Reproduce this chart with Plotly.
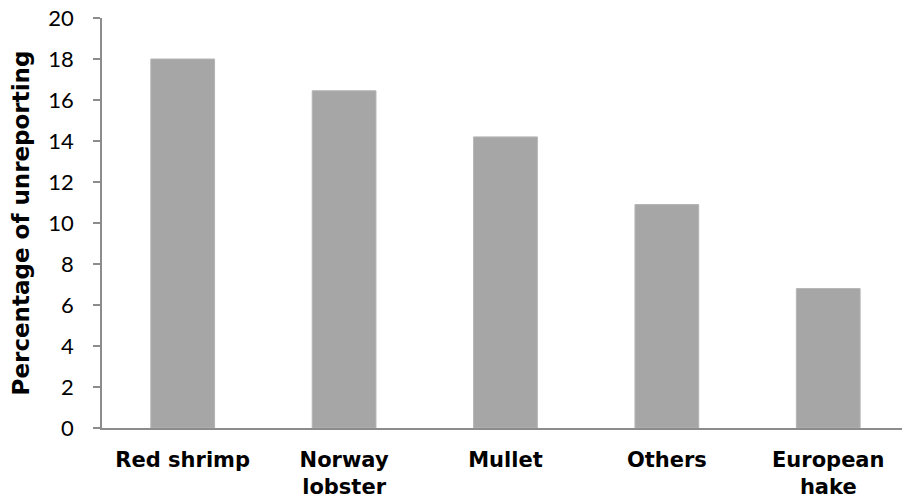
import plotly.graph_objects as go

categories = ["Red shrimp", "Norway<br>lobster", "Mullet", "Others", "European<br>hake"]
values = [18.0, 16.45, 14.2, 10.9, 6.8]
y_ticks = [0, 2, 4, 6, 8, 10, 12, 14, 16, 18, 20]

fig = go.Figure(
    go.Bar(
        x=list(range(len(categories))),
        y=values,
        marker=dict(color="#a6a6a6", line=dict(color="#b4b4b4", width=1)),
        width=0.395,
    )
)

fig.update_layout(
    width=902,
    height=502,
    margin=dict(l=102, r=0, t=18, b=74),
    plot_bgcolor="white",
    paper_bgcolor="white",
    showlegend=False,
    xaxis=dict(
        tickmode="array",
        tickvals=list(range(len(categories))),
        ticktext=["<b>%s</b>" % c for c in categories],
        range=[-0.5, 4.457],
        automargin=False,
        showgrid=False,
        showline=True,
        linecolor="#8c8c8c",
        linewidth=1.5,
        ticks="",
        ticklabelstandoff=12,
        ticklabeloverflow="allow",
        tickfont=dict(family="DejaVu Sans", size=21, color="#000000"),
        zeroline=False,
    ),
    yaxis=dict(
        range=[0, 20],
        automargin=False,
        tickmode="array",
        tickvals=y_ticks,
        showgrid=False,
        showline=True,
        linecolor="#8c8c8c",
        linewidth=1.5,
        ticks="outside",
        ticklen=7,
        tickcolor="#8c8c8c",
        tickwidth=1.5,
        ticklabelstandoff=15,
        ticklabeloverflow="allow",
        tickfont=dict(family="Lato", size=22, color="#000000"),
        zeroline=False,
        title=dict(
            text="<b>Percentage of unreporting</b>",
            font=dict(family="DejaVu Sans", size=23, color="#000000"),
            standoff=12,
        ),
    ),
)

fig.write_html(
    "out.html",
    config={"displayModeBar": False},
    post_script="document.body.style.margin='0';document.body.style.overflow='hidden';",
)
